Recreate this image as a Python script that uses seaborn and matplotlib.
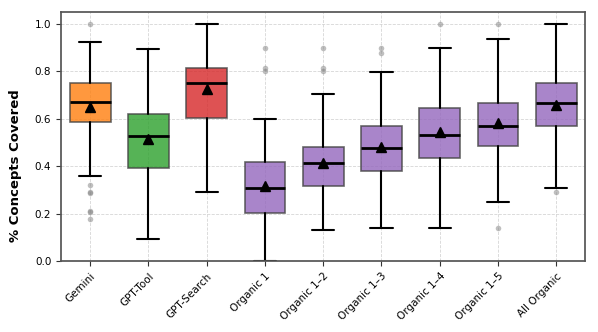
import seaborn as sns
import matplotlib
matplotlib.use("Agg")
import matplotlib.pyplot as plt

# Summary stats
methods = ["Gemini", "GPT-Tool", "GPT-Search", "Organic 1", "Organic 1\u20132",
           "Organic 1\u20133", "Organic 1\u20134", "Organic 1\u20135", "All Organic"]
whisker_low = [0.357, 0.095, 0.292, 0.0, 0.130, 0.141, 0.141, 0.249, 0.307]
q1 = [0.584, 0.391, 0.603, 0.202, 0.315, 0.381, 0.435, 0.484, 0.570]
medians = [0.671, 0.526, 0.749, 0.307, 0.414, 0.475, 0.531, 0.570, 0.665]
q3 = [0.749, 0.618, 0.811, 0.418, 0.482, 0.570, 0.645, 0.665, 0.749]
whisker_high = [0.924, 0.892, 1.0, 0.599, 0.703, 0.798, 0.899, 0.933, 1.0]
means = [0.647, 0.513, 0.724, 0.318, 0.412, 0.482, 0.545, 0.580, 0.657]
outliers = [
    [1.0, 0.32, 0.292, 0.286, 0.21, 0.207, 0.176],
    [],
    [],
    [0.899, 0.811, 0.801],
    [0.899, 0.811, 0.80],
    [0.899, 0.874],
    [1.0],
    [1.0, 0.141],
    [0.29],
]

pal = sns.color_palette("tab10")
box_colors = [pal[1], pal[2], pal[3]] + [pal[4]] * 6


def build_stats():
    stats = []
    for i, name in enumerate(methods):
        stats.append({
            "label": name,
            "whislo": whisker_low[i],
            "q1": q1[i],
            "med": medians[i],
            "q3": q3[i],
            "whishi": whisker_high[i],
            "mean": means[i],
            "fliers": outliers[i],
        })
    return stats


def main():
    sns.set_theme(style="ticks")
    plt.rcParams["font.family"] = ["DejaVu Sans"]

    fig, ax = plt.subplots(figsize=(5.98, 3.32), dpi=100)
    fig.subplots_adjust(left=0.102, right=0.979, top=0.965, bottom=0.213)

    bp = ax.bxp(build_stats(), positions=range(len(methods)), widths=0.7,
                capwidths=0.38, patch_artist=True, showmeans=True,
                boxprops=dict(edgecolor="#666666", linewidth=1.2),
                medianprops=dict(color="black", linewidth=2),
                whiskerprops=dict(color="black", linewidth=1.5),
                capprops=dict(color="black", linewidth=1.5),
                meanprops=dict(marker="^", markerfacecolor="black",
                               markeredgecolor="black", markersize=7),
                flierprops=dict(marker="o", markerfacecolor="gray",
                                markeredgecolor="none", markersize=4,
                                alpha=0.5))
    for patch, c in zip(bp["boxes"], box_colors):
        patch.set_facecolor(c)
        patch.set_alpha(0.8)
        patch.set_edgecolor("#444444")

    ax.set_xlim(-0.5, len(methods) - 0.5)
    ax.set_ylim(0, 1.05)
    ax.set_yticks([0.0, 0.2, 0.4, 0.6, 0.8, 1.0])
    ax.set_xticks(range(len(methods)))
    ax.set_xticklabels(methods, rotation=45, ha="right",
                       rotation_mode="anchor", fontsize=7.5, color="black")
    ax.tick_params(axis="both", length=3.5, width=0.8, color="#333333",
                   labelcolor="black")
    ax.tick_params(axis="y", labelsize=7.5)
    ax.set_ylabel("% Concepts Covered", fontsize=9.5, fontweight="bold",
                  color="black")
    ax.yaxis.set_label_coords(-0.075, 0.382)
    ax.grid(True, linestyle="--", color="#cccccc", linewidth=0.6, alpha=0.8)
    ax.set_axisbelow(True)
    for s in ax.spines.values():
        s.set_visible(True)
        s.set_color("#555555")

    fig.savefig("out.png", dpi=100)


if __name__ == "__main__":
    main()
